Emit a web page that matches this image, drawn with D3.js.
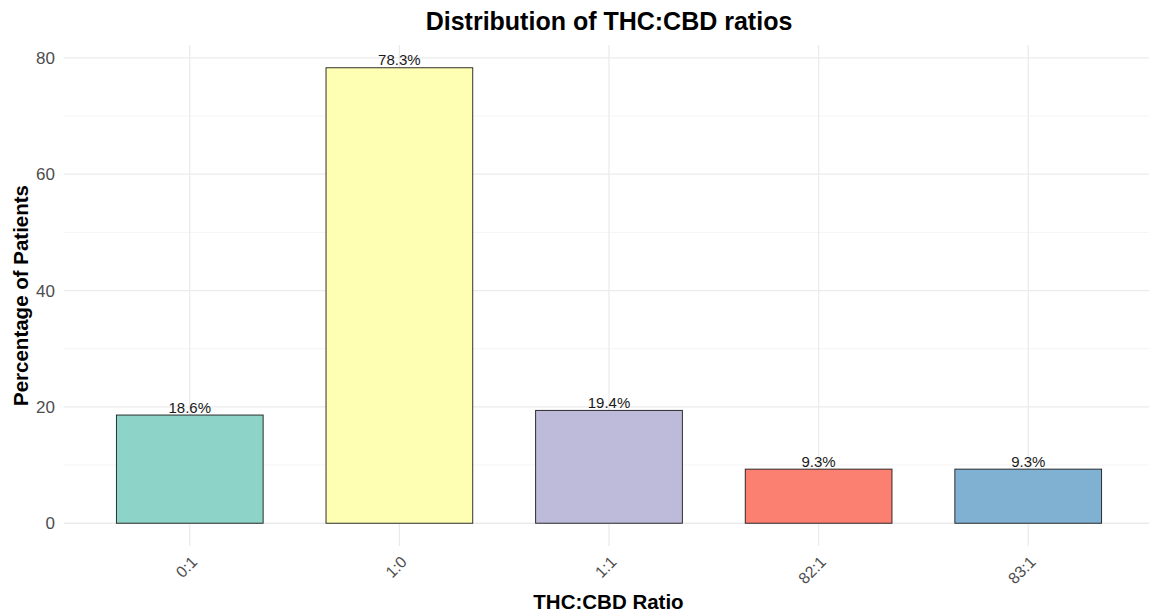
<!DOCTYPE html>
<html>
<head>
<meta charset="utf-8">
<script src="https://cdn.jsdelivr.net/npm/d3@7"></script>
<style>
  html, body { margin: 0; padding: 0; background: #ffffff; }
  svg { display: block; font-family: "Liberation Sans", Arial, sans-serif; }
</style>
</head>
<body>
<svg id="chart" width="1149" height="614"></svg>
<script>
// THC:CBD ratio categories and share of patients (%)
const ratios = ["0:1", "1:0", "1:1", "82:1", "83:1"];
const percentages = [18.6, 78.3, 19.4, 9.3, 9.3];
const barColors = ["#8DD3C7", "#FFFFB3", "#BEBADA", "#FB8072", "#80B1D3"];
const yTicks = [0, 20, 40, 60, 80];
const yMinorTicks = [10, 30, 50, 70];

const titleText = "Distribution of THC:CBD ratios";
const xTitleText = "THC:CBD Ratio";
const yTitleText = "Percentage of Patients";

const svg = d3.select("#chart");
const W = 1149, H = 614;

// plotting panel
const panel = { left: 64, right: 1154, top: 45, bottom: 546 };

// discrete x scale with 0.6 step padding on each side
const x = d3.scalePoint()
  .domain(ratios)
  .range([panel.left, panel.right])
  .padding(0.6);
const step = x.step();
const barWidth = step * 0.7;

// continuous y scale with 5% expansion
const yMax = d3.max(percentages);
const pad = yMax * 0.05;
const y = d3.scaleLinear()
  .domain([-pad, yMax + pad])
  .range([panel.bottom, panel.top]);

const grid = svg.append("g");

// minor horizontal gridlines
grid.selectAll("line.minor")
  .data(yMinorTicks)
  .join("line")
  .attr("x1", panel.left).attr("x2", W)
  .attr("y1", d => y(d)).attr("y2", d => y(d))
  .attr("stroke", "#f4f4f4").attr("stroke-width", 1);

// major horizontal gridlines
grid.selectAll("line.majorY")
  .data(yTicks)
  .join("line")
  .attr("x1", panel.left).attr("x2", W)
  .attr("y1", d => y(d)).attr("y2", d => y(d))
  .attr("stroke", "#ebebeb").attr("stroke-width", 1.3);

// vertical gridlines at category positions
grid.selectAll("line.majorX")
  .data(ratios)
  .join("line")
  .attr("x1", d => x(d)).attr("x2", d => x(d))
  .attr("y1", panel.top).attr("y2", panel.bottom)
  .attr("stroke", "#ebebeb").attr("stroke-width", 1.3);

// bars
svg.append("g")
  .selectAll("rect")
  .data(ratios)
  .join("rect")
  .attr("x", d => x(d) - barWidth / 2)
  .attr("width", barWidth)
  .attr("y", (d, i) => y(percentages[i]))
  .attr("height", (d, i) => y(0) - y(percentages[i]))
  .attr("fill", (d, i) => barColors[i])
  .attr("stroke", "#1a1a1a")
  .attr("stroke-width", 0.9);

// value labels above bars
svg.append("g")
  .selectAll("text")
  .data(ratios)
  .join("text")
  .attr("x", d => x(d))
  .attr("y", (d, i) => y(percentages[i]) - 2.5)
  .attr("text-anchor", "middle")
  .attr("font-size", 15)
  .attr("fill", "#1a1a1a")
  .text((d, i) => percentages[i].toFixed(1) + "%");

// y axis tick labels
const yAxis = svg.append("g")
  .attr("transform", `translate(${panel.left - 9},0)`)
  .call(d3.axisLeft(y).tickValues(yTicks).tickSize(0).tickPadding(0).tickFormat(d3.format("d")));
yAxis.select(".domain").remove();
yAxis.selectAll("text")
  .attr("font-size", 17)
  .attr("fill", "#4d4d4d")
  .attr("font-family", "Liberation Sans, Arial, sans-serif");

// x axis tick labels, rotated 45 degrees
const xAxis = svg.append("g")
  .attr("transform", `translate(0,${panel.bottom})`)
  .call(d3.axisBottom(x).tickSize(0).tickFormat(d => d));
xAxis.select(".domain").remove();
xAxis.selectAll("text")
  .attr("font-size", 16)
  .attr("fill", "#4d4d4d")
  .attr("font-family", "Liberation Sans, Arial, sans-serif")
  .attr("text-anchor", "end")
  .attr("dy", null)
  .attr("y", null)
  .attr("transform", "translate(8,17) rotate(-45)");

// titles
svg.append("text")
  .attr("x", 609)
  .attr("y", 30)
  .attr("text-anchor", "middle")
  .attr("font-size", 25)
  .attr("font-weight", "bold")
  .attr("fill", "#000")
  .text(titleText);

svg.append("text")
  .attr("x", 608.5)
  .attr("y", 609)
  .attr("text-anchor", "middle")
  .attr("font-size", 20.5)
  .attr("font-weight", "bold")
  .attr("fill", "#000")
  .text(xTitleText);

svg.append("text")
  .attr("transform", `translate(28,${(panel.top + panel.bottom) / 2}) rotate(-90)`)
  .attr("text-anchor", "middle")
  .attr("font-size", 20.5)
  .attr("font-weight", "bold")
  .attr("fill", "#000")
  .text(yTitleText);
</script>
</body>
</html>
